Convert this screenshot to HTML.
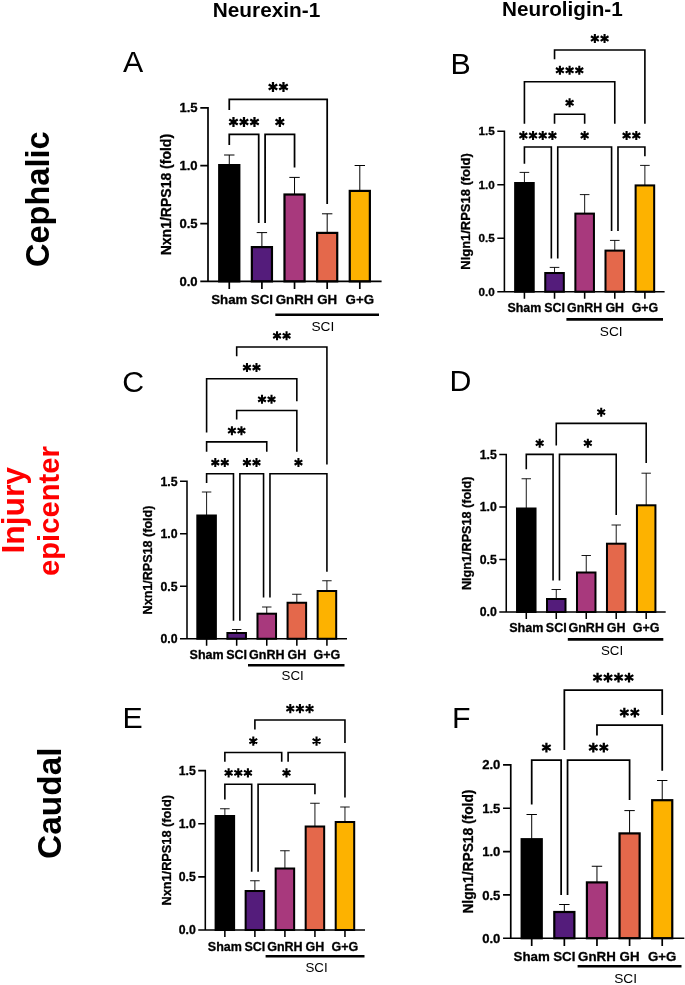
<!DOCTYPE html>
<html lang="en">
<head>
<meta charset="utf-8">
<title>Neurexin-1 / Neuroligin-1 expression</title>
<style>
html,body{margin:0;padding:0;background:#fff;}
body{width:685px;height:985px;overflow:hidden;font-family:"Liberation Sans",sans-serif;}
svg{display:block;will-change:transform;}
svg text{font-family:"Liberation Sans",sans-serif;fill:#000;}
svg text.b{font-weight:700;stroke:#000;stroke-width:0.3px;stroke-linejoin:round;}
</style>
</head>
<body>
<svg width="685" height="985" viewBox="0 0 685 985">
<rect width="685" height="985" fill="#fff"/>
<text x="266.5" y="17" font-size="20.8" font-weight="700" text-anchor="middle">Neurexin-1</text>
<text x="562.4" y="15.6" font-size="20.7" font-weight="700" text-anchor="middle">Neuroligin-1</text>
<text transform="translate(48.7 199.2) rotate(-90)" font-size="32.6" font-weight="700" text-anchor="middle">Cephalic</text>
<text transform="translate(24.4 510.3) rotate(-90)" font-size="31.8" font-weight="700" text-anchor="middle" style="fill:#ff0000">Injury</text>
<text transform="translate(59.3 511.1) rotate(-90)" font-size="29.2" font-weight="700" text-anchor="middle" style="fill:#ff0000">epicenter</text>
<text transform="translate(60.9 803.2) rotate(-90)" font-size="32.6" font-weight="700" text-anchor="middle" textLength="111.5" lengthAdjust="spacingAndGlyphs">Caudal</text>
<g id="panelA">
<path d="M229.27 155V165M224.07 155H234.47" stroke="#000" stroke-width="1" fill="none"/>
<path d="M261.9 232.6V247M256.7 232.6H267.1" stroke="#000" stroke-width="1" fill="none"/>
<path d="M294.54 177.4V194.4M289.34 177.4H299.74" stroke="#000" stroke-width="1" fill="none"/>
<path d="M327.18 213.8V232.8M321.98 213.8H332.38" stroke="#000" stroke-width="1" fill="none"/>
<path d="M359.81 165.5V190.8M354.61 165.5H365.01" stroke="#000" stroke-width="1" fill="none"/>
<rect x="219.21" y="165.1" width="20.11" height="116.3" fill="#000000" stroke="#000" stroke-width="2.2"/>
<rect x="251.85" y="247.1" width="20.11" height="34.3" fill="#541C7B" stroke="#000" stroke-width="2.2"/>
<rect x="284.49" y="194.5" width="20.11" height="86.9" fill="#A8397D" stroke="#000" stroke-width="2.2"/>
<rect x="317.12" y="232.9" width="20.11" height="48.5" fill="#E4684B" stroke="#000" stroke-width="2.2"/>
<rect x="349.76" y="190.9" width="20.11" height="90.5" fill="#FDB200" stroke="#000" stroke-width="2.2"/>
<path d="M208 106.95V281.4H381.6M200.3 281.4H208M200.3 223.53H208M200.3 165.67H208M200.3 107.8H208M229.27 281.4V289.1M261.9 281.4V289.1M294.54 281.4V289.1M327.18 281.4V289.1M359.81 281.4V289.1" stroke="#000" stroke-width="1.7" fill="none"/>
<text x="197.6" y="285.98" class="b" font-size="13.1" text-anchor="end">0.0</text>
<text x="197.6" y="228.12" class="b" font-size="13.1" text-anchor="end">0.5</text>
<text x="197.6" y="170.25" class="b" font-size="13.1" text-anchor="end">1.0</text>
<text x="197.6" y="112.38" class="b" font-size="13.1" text-anchor="end">1.5</text>
<text x="229.27" y="304" class="b" font-size="13.3" text-anchor="middle">Sham</text>
<text x="261.9" y="304" class="b" font-size="13.3" text-anchor="middle">SCI</text>
<text x="294.54" y="304" class="b" font-size="13.3" text-anchor="middle">GnRH</text>
<text x="327.18" y="304" class="b" font-size="13.3" text-anchor="middle">GH</text>
<text x="359.81" y="304" class="b" font-size="13.3" text-anchor="middle">G+G</text>
<text transform="translate(171 194.6) rotate(-90)" class="b" font-size="14" text-anchor="middle">Nxn1/RPS18 (fold)</text>
<path d="M229.27 110V99.4H327.18V204M229.27 145V134.4H258.7V223M265.1 223V134.4H294.54V167.4" stroke="#000" stroke-width="1.75" fill="none" stroke-linejoin="miter"/>
<path d="M272.97 82.05V91.95M268.68 84.53L277.26 89.47M268.68 89.47L277.26 84.53M283.47 82.05V91.95M279.18 84.53L287.76 89.47M279.18 89.47L287.76 84.53M233.48 117.05V126.95M229.2 119.53L237.77 124.47M229.2 124.47L237.77 119.53M243.98 117.05V126.95M239.7 119.53L248.27 124.47M239.7 124.47L248.27 119.53M254.48 117.05V126.95M250.2 119.53L258.77 124.47M250.2 124.47L258.77 119.53M279.82 117.05V126.95M275.53 119.53L284.11 124.47M275.53 124.47L284.11 119.53" stroke="#000" stroke-width="2.25" fill="none"/>
<path d="M275.3 314.7H379" stroke="#000" stroke-width="2.6"/>
<text x="322.8" y="331" font-size="13.7" text-anchor="middle">SCI</text>
<text x="122.9" y="72" font-size="30.3">A</text>
</g>
<g id="panelB">
<path d="M524.42 172.4V183M519.62 172.4H529.22" stroke="#000" stroke-width="0.92" fill="none"/>
<path d="M554.54 267.4V273M549.74 267.4H559.34" stroke="#000" stroke-width="0.92" fill="none"/>
<path d="M584.66 194.6V213.6M579.86 194.6H589.46" stroke="#000" stroke-width="0.92" fill="none"/>
<path d="M614.78 240.4V250.6M609.98 240.4H619.58" stroke="#000" stroke-width="0.92" fill="none"/>
<path d="M644.89 165.4V185.4M640.1 165.4H649.69" stroke="#000" stroke-width="0.92" fill="none"/>
<rect x="515.15" y="183.02" width="18.56" height="108.68" fill="#000000" stroke="#000" stroke-width="2.03"/>
<rect x="545.26" y="273.02" width="18.56" height="18.68" fill="#541C7B" stroke="#000" stroke-width="2.03"/>
<rect x="575.38" y="213.62" width="18.56" height="78.08" fill="#A8397D" stroke="#000" stroke-width="2.03"/>
<rect x="605.5" y="250.62" width="18.56" height="41.08" fill="#E4684B" stroke="#000" stroke-width="2.03"/>
<rect x="635.62" y="185.42" width="18.56" height="106.28" fill="#FDB200" stroke="#000" stroke-width="2.03"/>
<path d="M504.4 130.42V291.7H664.6M497.29 291.7H504.4M497.29 238.2H504.4M497.29 184.7H504.4M497.29 131.2H504.4M524.42 291.7V298.81M554.54 291.7V298.81M584.66 291.7V298.81M614.78 291.7V298.81M644.89 291.7V298.81" stroke="#000" stroke-width="1.57" fill="none"/>
<text x="494.8" y="295.8" class="b" font-size="11.7" text-anchor="end">0.0</text>
<text x="494.8" y="242.29" class="b" font-size="11.7" text-anchor="end">0.5</text>
<text x="494.8" y="188.79" class="b" font-size="11.7" text-anchor="end">1.0</text>
<text x="494.8" y="135.29" class="b" font-size="11.7" text-anchor="end">1.5</text>
<text x="524.42" y="312" class="b" font-size="12.4" text-anchor="middle">Sham</text>
<text x="554.54" y="312" class="b" font-size="12.4" text-anchor="middle">SCI</text>
<text x="584.66" y="312" class="b" font-size="12.4" text-anchor="middle">GnRH</text>
<text x="614.78" y="312" class="b" font-size="12.4" text-anchor="middle">GH</text>
<text x="644.89" y="312" class="b" font-size="12.4" text-anchor="middle">G+G</text>
<text transform="translate(470.2 211.45) rotate(-90)" class="b" font-size="13.3" text-anchor="middle" textLength="116.5" lengthAdjust="spacingAndGlyphs">Nlgn1/RPS18 (fold)</text>
<path d="M554.54 59.25V50H644.89V123.75M524.42 123.75V81.75H614.78V123.75M554.54 123.75V114.25H584.66V123.75M524.42 163.8V147H551.34V258.4M557.74 258.4V147H611.58V231M617.98 231V147H644.89V156.25" stroke="#000" stroke-width="1.62" fill="none" stroke-linejoin="miter"/>
<path d="M594.87 33.99V43.12M590.92 36.27L598.83 40.84M590.92 40.84L598.83 36.27M604.56 33.99V43.12M600.61 36.27L608.52 40.84M600.61 40.84L608.52 36.27M559.91 65.74V74.87M555.95 68.02L563.87 72.59M555.95 72.59L563.87 68.02M569.6 65.74V74.87M565.64 68.02L573.56 72.59M565.64 72.59L573.56 68.02M579.29 65.74V74.87M575.34 68.02L583.25 72.59M575.34 72.59L583.25 68.02M569.6 98.24V107.37M565.64 100.52L573.56 105.09M565.64 105.09L573.56 100.52M523.35 130.99V140.12M519.39 133.27L527.3 137.84M519.39 137.84L527.3 133.27M533.04 130.99V140.12M529.08 133.27L536.99 137.84M529.08 137.84L536.99 133.27M542.73 130.99V140.12M538.77 133.27L546.69 137.84M538.77 137.84L546.69 133.27M552.42 130.99V140.12M548.46 133.27L556.38 137.84M548.46 137.84L556.38 133.27M584.66 130.99V140.12M580.7 133.27L588.62 137.84M580.7 137.84L588.62 133.27M626.59 130.99V140.12M622.63 133.27L630.55 137.84M622.63 137.84L630.55 133.27M636.28 130.99V140.12M632.33 133.27L640.24 137.84M632.33 137.84L640.24 133.27" stroke="#000" stroke-width="2.08" fill="none"/>
<path d="M566.4 319.4H663" stroke="#000" stroke-width="2.6"/>
<text x="611.2" y="335.6" font-size="13.7" text-anchor="middle">SCI</text>
<text x="450.5" y="73.6" font-size="30.3">B</text>
</g>
<g id="panelC">
<path d="M206.6 492V515.5M201.88 492H211.32" stroke="#000" stroke-width="0.91" fill="none"/>
<path d="M236.68 629.5V633M231.96 629.5H241.4" stroke="#000" stroke-width="0.91" fill="none"/>
<path d="M266.76 607V613.7M262.04 607H271.48" stroke="#000" stroke-width="0.91" fill="none"/>
<path d="M296.84 594.25V602.75M292.12 594.25H301.56" stroke="#000" stroke-width="0.91" fill="none"/>
<path d="M326.92 580.75V591M322.2 580.75H331.64" stroke="#000" stroke-width="0.91" fill="none"/>
<rect x="197.32" y="515.5" width="18.56" height="123.25" fill="#000000" stroke="#000" stroke-width="2"/>
<rect x="227.4" y="633" width="18.56" height="5.75" fill="#541C7B" stroke="#000" stroke-width="2"/>
<rect x="257.48" y="613.7" width="18.56" height="25.05" fill="#A8397D" stroke="#000" stroke-width="2"/>
<rect x="287.56" y="602.75" width="18.56" height="36" fill="#E4684B" stroke="#000" stroke-width="2"/>
<rect x="317.64" y="591" width="18.56" height="47.75" fill="#FDB200" stroke="#000" stroke-width="2"/>
<path d="M187 480.48V638.75H347M180.02 638.75H187M180.02 586.25H187M180.02 533.75H187M180.02 481.25H187M206.6 638.75V645.73M236.68 638.75V645.73M266.76 638.75V645.73M296.84 638.75V645.73M326.92 638.75V645.73" stroke="#000" stroke-width="1.54" fill="none"/>
<text x="177.57" y="643.05" class="b" font-size="12.3" text-anchor="end">0.0</text>
<text x="177.57" y="590.55" class="b" font-size="12.3" text-anchor="end">0.5</text>
<text x="177.57" y="538.05" class="b" font-size="12.3" text-anchor="end">1.0</text>
<text x="177.57" y="485.56" class="b" font-size="12.3" text-anchor="end">1.5</text>
<text x="206.6" y="658.75" class="b" font-size="12.5" text-anchor="middle">Sham</text>
<text x="236.68" y="658.75" class="b" font-size="12.5" text-anchor="middle">SCI</text>
<text x="266.76" y="658.75" class="b" font-size="12.5" text-anchor="middle">GnRH</text>
<text x="296.84" y="658.75" class="b" font-size="12.5" text-anchor="middle">GH</text>
<text x="326.92" y="658.75" class="b" font-size="12.5" text-anchor="middle">G+G</text>
<text transform="translate(152.4 560) rotate(-90)" class="b" font-size="13" text-anchor="middle" textLength="108.8" lengthAdjust="spacingAndGlyphs">Nxn1/RPS18 (fold)</text>
<path d="M236.68 356.25V347H326.92V464.5M206.6 432.5V378.75H296.84V401.25M236.68 419.5V410.5H296.84V451.75M206.6 451.75V441.9H266.76V451.75M206.6 483V473.75H233.48V620.75M239.88 620.75V473.75H263.56V597.5M269.96 597.5V473.75H326.92V571.75" stroke="#000" stroke-width="1.59" fill="none" stroke-linejoin="miter"/>
<path d="M277.04 331.26V340.24M273.15 333.51L280.93 338M273.15 338L280.93 333.51M286.56 331.26V340.24M282.67 333.51L290.45 338M282.67 338L290.45 333.51M246.96 363.01V371.99M243.07 365.26L250.85 369.75M243.07 369.75L250.85 365.26M256.48 363.01V371.99M252.59 365.26L260.37 369.75M252.59 369.75L260.37 365.26M262 394.76V403.74M258.11 397.01L265.89 401.5M258.11 401.5L265.89 397.01M271.52 394.76V403.74M267.63 397.01L275.41 401.5M267.63 401.5L275.41 397.01M231.92 426.16V435.14M228.03 428.41L235.81 432.9M228.03 432.9L235.81 428.41M241.44 426.16V435.14M237.55 428.41L245.33 432.9M237.55 432.9L245.33 428.41M215.28 458.01V466.99M211.39 460.26L219.17 464.75M211.39 464.75L219.17 460.26M224.8 458.01V466.99M220.91 460.26L228.69 464.75M220.91 464.75L228.69 460.26M246.96 458.01V466.99M243.07 460.26L250.85 464.75M243.07 464.75L250.85 460.26M256.48 458.01V466.99M252.59 460.26L260.37 464.75M252.59 464.75L260.37 460.26M298.44 458.01V466.99M294.55 460.26L302.33 464.75M294.55 464.75L302.33 460.26" stroke="#000" stroke-width="2.04" fill="none"/>
<path d="M248 665.2H344.5" stroke="#000" stroke-width="2.6"/>
<text x="292.7" y="680.4" font-size="13.3" text-anchor="middle">SCI</text>
<text x="122.2" y="391.8" font-size="30.3">C</text>
</g>
<g id="panelD">
<path d="M526.28 478.75V508.5M521.57 478.75H531" stroke="#000" stroke-width="0.91" fill="none"/>
<path d="M556.26 589.5V599M551.54 589.5H560.98" stroke="#000" stroke-width="0.91" fill="none"/>
<path d="M586.24 555.5V572.5M581.52 555.5H590.95" stroke="#000" stroke-width="0.91" fill="none"/>
<path d="M616.21 525V543.7M611.5 525H620.93" stroke="#000" stroke-width="0.91" fill="none"/>
<path d="M646.19 473.2V505.3M641.47 473.2H650.91" stroke="#000" stroke-width="0.91" fill="none"/>
<rect x="517.04" y="508.5" width="18.49" height="103.5" fill="#000000" stroke="#000" stroke-width="2"/>
<rect x="547.01" y="599" width="18.49" height="13" fill="#541C7B" stroke="#000" stroke-width="2"/>
<rect x="576.99" y="572.5" width="18.49" height="39.5" fill="#A8397D" stroke="#000" stroke-width="2"/>
<rect x="606.97" y="543.7" width="18.49" height="68.3" fill="#E4684B" stroke="#000" stroke-width="2"/>
<rect x="636.94" y="505.3" width="18.49" height="106.7" fill="#FDB200" stroke="#000" stroke-width="2"/>
<path d="M506.25 453.73V612H665.7M499.27 612H506.25M499.27 559.5H506.25M499.27 507H506.25M499.27 454.5H506.25M526.28 612V618.98M556.26 612V618.98M586.24 612V618.98M616.21 612V618.98M646.19 612V618.98" stroke="#000" stroke-width="1.54" fill="none"/>
<text x="496.82" y="616.3" class="b" font-size="12.3" text-anchor="end">0.0</text>
<text x="496.82" y="563.8" class="b" font-size="12.3" text-anchor="end">0.5</text>
<text x="496.82" y="511.31" class="b" font-size="12.3" text-anchor="end">1.0</text>
<text x="496.82" y="458.81" class="b" font-size="12.3" text-anchor="end">1.5</text>
<text x="526.28" y="631.75" class="b" font-size="12.5" text-anchor="middle">Sham</text>
<text x="556.26" y="631.75" class="b" font-size="12.5" text-anchor="middle">SCI</text>
<text x="586.24" y="631.75" class="b" font-size="12.5" text-anchor="middle">GnRH</text>
<text x="616.21" y="631.75" class="b" font-size="12.5" text-anchor="middle">GH</text>
<text x="646.19" y="631.75" class="b" font-size="12.5" text-anchor="middle">G+G</text>
<text transform="translate(471.4 533.25) rotate(-90)" class="b" font-size="12.9" text-anchor="middle" textLength="113.5" lengthAdjust="spacingAndGlyphs">Nlgn1/RPS18 (fold)</text>
<path d="M556.26 445.5V423.4H646.19V462.9M526.28 469.25V454.4H553.06V580.5M559.46 580.5V454.4H616.21V514.9" stroke="#000" stroke-width="1.59" fill="none" stroke-linejoin="miter"/>
<path d="M601.22 407.66V416.64M597.34 409.91L605.11 414.4M597.34 414.4L605.11 409.91M539.67 438.66V447.64M535.78 440.91L543.56 445.4M535.78 445.4L543.56 440.91M587.84 438.66V447.64M583.95 440.91L591.72 445.4M583.95 445.4L591.72 440.91" stroke="#000" stroke-width="2.04" fill="none"/>
<path d="M567.8 639.4H663.3" stroke="#000" stroke-width="2.6"/>
<text x="612" y="655" font-size="13.3" text-anchor="middle">SCI</text>
<text x="449.6" y="391.25" font-size="30.3">D</text>
</g>
<g id="panelE">
<path d="M224.86 808.75V816M220.09 808.75H229.64" stroke="#000" stroke-width="0.92" fill="none"/>
<path d="M254.89 880.75V891M250.11 880.75H259.66" stroke="#000" stroke-width="0.92" fill="none"/>
<path d="M284.91 850.75V868.5M280.14 850.75H289.68" stroke="#000" stroke-width="0.92" fill="none"/>
<path d="M314.93 803.25V826.5M310.16 803.25H319.71" stroke="#000" stroke-width="0.92" fill="none"/>
<path d="M344.96 807V822M340.18 807H349.73" stroke="#000" stroke-width="0.92" fill="none"/>
<rect x="215.61" y="816.01" width="18.5" height="113.99" fill="#000000" stroke="#000" stroke-width="2.02"/>
<rect x="245.64" y="891.01" width="18.5" height="38.99" fill="#541C7B" stroke="#000" stroke-width="2.02"/>
<rect x="275.66" y="868.51" width="18.5" height="61.49" fill="#A8397D" stroke="#000" stroke-width="2.02"/>
<rect x="305.68" y="826.51" width="18.5" height="103.49" fill="#E4684B" stroke="#000" stroke-width="2.02"/>
<rect x="335.71" y="822.01" width="18.5" height="107.99" fill="#FDB200" stroke="#000" stroke-width="2.02"/>
<path d="M205.3 769.82V930H365M198.23 930H205.3M198.23 876.87H205.3M198.23 823.73H205.3M198.23 770.6H205.3M224.86 930V937.07M254.89 930V937.07M284.91 930V937.07M314.93 930V937.07M344.96 930V937.07" stroke="#000" stroke-width="1.56" fill="none"/>
<text x="195.75" y="934.3" class="b" font-size="12.3" text-anchor="end">0.0</text>
<text x="195.75" y="881.17" class="b" font-size="12.3" text-anchor="end">0.5</text>
<text x="195.75" y="828.04" class="b" font-size="12.3" text-anchor="end">1.0</text>
<text x="195.75" y="774.9" class="b" font-size="12.3" text-anchor="end">1.5</text>
<text x="224.86" y="950.75" class="b" font-size="12.5" text-anchor="middle">Sham</text>
<text x="254.89" y="950.75" class="b" font-size="12.5" text-anchor="middle">SCI</text>
<text x="284.91" y="950.75" class="b" font-size="12.5" text-anchor="middle">GnRH</text>
<text x="314.93" y="950.75" class="b" font-size="12.5" text-anchor="middle">GH</text>
<text x="344.96" y="950.75" class="b" font-size="12.5" text-anchor="middle">G+G</text>
<text transform="translate(170.9 850.3) rotate(-90)" class="b" font-size="13" text-anchor="middle" textLength="110.5" lengthAdjust="spacingAndGlyphs">Nxn1/RPS18 (fold)</text>
<path d="M254.89 729.5V720H344.96V743M224.86 761.75V752.5H281.71V761.75M288.11 761.75V752.5H344.96V797.5M224.86 799.5V784.25H251.69V871.75M258.09 871.75V784.25H314.93V794.25" stroke="#000" stroke-width="1.61" fill="none" stroke-linejoin="miter"/>
<path d="M290.28 704.07V713.16M286.35 706.34L294.22 710.89M286.35 710.89L294.22 706.34M299.92 704.07V713.16M295.99 706.34L303.86 710.89M295.99 710.89L303.86 706.34M309.56 704.07V713.16M305.63 706.34L313.5 710.89M305.63 710.89L313.5 706.34M253.29 736.57V745.66M249.35 738.84L257.22 743.39M249.35 743.39L257.22 738.84M316.53 736.57V745.66M312.6 738.84L320.47 743.39M312.6 743.39L320.47 738.84M228.64 768.32V777.41M224.7 770.59L232.57 775.14M224.7 775.14L232.57 770.59M238.28 768.32V777.41M234.34 770.59L242.21 775.14M234.34 775.14L242.21 770.59M247.91 768.32V777.41M243.98 770.59L251.85 775.14M243.98 775.14L251.85 770.59M286.51 768.32V777.41M282.58 770.59L290.45 775.14M282.58 775.14L290.45 770.59" stroke="#000" stroke-width="2.07" fill="none"/>
<path d="M265.6 956.2H364.5" stroke="#000" stroke-width="2.6"/>
<text x="316.5" y="971.8" font-size="13.3" text-anchor="middle">SCI</text>
<text x="122.6" y="728" font-size="30.3">E</text>
</g>
<g id="panelF">
<path d="M531.71 814.5V839.1M526.51 814.5H536.91" stroke="#000" stroke-width="1" fill="none"/>
<path d="M564.34 904.5V911.9M559.14 904.5H569.54" stroke="#000" stroke-width="1" fill="none"/>
<path d="M596.96 866.25V882.3M591.76 866.25H602.16" stroke="#000" stroke-width="1" fill="none"/>
<path d="M629.59 810.6V833.3M624.39 810.6H634.79" stroke="#000" stroke-width="1" fill="none"/>
<path d="M662.22 780.5V800.1M657.02 780.5H667.42" stroke="#000" stroke-width="1" fill="none"/>
<rect x="521.66" y="839.2" width="20.1" height="99.05" fill="#000000" stroke="#000" stroke-width="2.2"/>
<rect x="554.29" y="912" width="20.1" height="26.25" fill="#541C7B" stroke="#000" stroke-width="2.2"/>
<rect x="586.91" y="882.4" width="20.1" height="55.85" fill="#A8397D" stroke="#000" stroke-width="2.2"/>
<rect x="619.54" y="833.4" width="20.1" height="104.85" fill="#E4684B" stroke="#000" stroke-width="2.2"/>
<rect x="652.17" y="800.2" width="20.1" height="138.05" fill="#FDB200" stroke="#000" stroke-width="2.2"/>
<path d="M510.75 764.05V938.25H684.3M503.05 938.25H510.75M503.05 894.91H510.75M503.05 851.58H510.75M503.05 808.24H510.75M503.05 764.9H510.75M531.71 938.25V945.95M564.34 938.25V945.95M596.96 938.25V945.95M629.59 938.25V945.95M662.22 938.25V945.95" stroke="#000" stroke-width="1.7" fill="none"/>
<text x="500.35" y="942.84" class="b" font-size="13.1" text-anchor="end">0.0</text>
<text x="500.35" y="899.5" class="b" font-size="13.1" text-anchor="end">0.5</text>
<text x="500.35" y="856.16" class="b" font-size="13.1" text-anchor="end">1.0</text>
<text x="500.35" y="812.82" class="b" font-size="13.1" text-anchor="end">1.5</text>
<text x="500.35" y="769.49" class="b" font-size="13.1" text-anchor="end">2.0</text>
<text x="531.71" y="960.75" class="b" font-size="13.3" text-anchor="middle">Sham</text>
<text x="564.34" y="960.75" class="b" font-size="13.3" text-anchor="middle">SCI</text>
<text x="596.96" y="960.75" class="b" font-size="13.3" text-anchor="middle">GnRH</text>
<text x="629.59" y="960.75" class="b" font-size="13.3" text-anchor="middle">GH</text>
<text x="662.22" y="960.75" class="b" font-size="13.3" text-anchor="middle">G+G</text>
<text transform="translate(473.25 851.58) rotate(-90)" class="b" font-size="14" text-anchor="middle" textLength="124" lengthAdjust="spacingAndGlyphs">Nlgn1/RPS18 (fold)</text>
<path d="M564.34 750V690H662.22V715M596.96 735.5V725H662.22V770.75M531.71 804.5V760H561.14V895M567.54 895V760H629.59V800" stroke="#000" stroke-width="1.75" fill="none" stroke-linejoin="miter"/>
<path d="M597.53 672.65V682.55M593.24 675.12L601.82 680.08M593.24 680.08L601.82 675.12M608.03 672.65V682.55M603.74 675.12L612.32 680.08M603.74 680.08L612.32 675.12M618.53 672.65V682.55M614.24 675.12L622.82 680.08M614.24 680.08L622.82 675.12M629.03 672.65V682.55M624.74 675.12L633.32 680.08M624.74 680.08L633.32 675.12M624.34 707.65V717.55M620.06 710.12L628.63 715.08M620.06 715.08L628.63 710.12M634.84 707.65V717.55M630.56 710.12L639.13 715.08M630.56 715.08L639.13 710.12M546.42 742.65V752.55M542.14 745.12L550.71 750.08M542.14 750.08L550.71 745.12M593.31 742.65V752.55M589.03 745.12L597.6 750.08M589.03 750.08L597.6 745.12M603.81 742.65V752.55M599.53 745.12L608.1 750.08M599.53 750.08L608.1 745.12" stroke="#000" stroke-width="2.25" fill="none"/>
<path d="M577.6 966.25H681.5" stroke="#000" stroke-width="2.6"/>
<text x="625.6" y="983" font-size="13.7" text-anchor="middle">SCI</text>
<text x="452" y="727.5" font-size="30.3">F</text>
</g>
</svg>
</body>
</html>
